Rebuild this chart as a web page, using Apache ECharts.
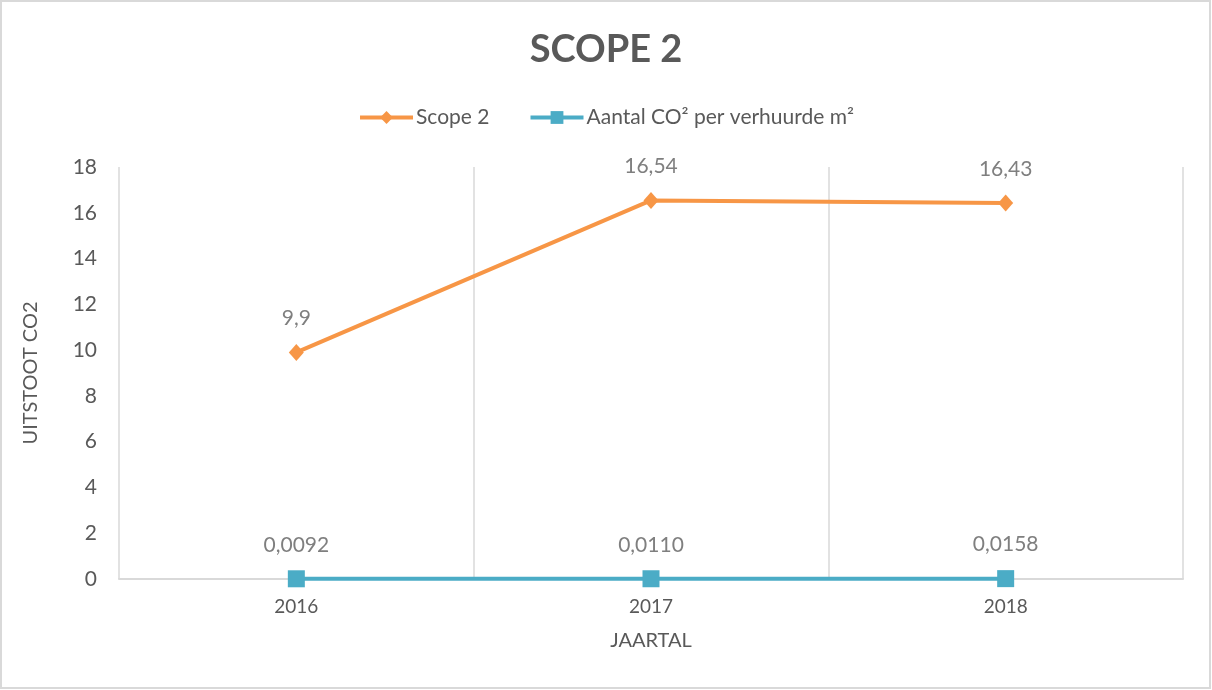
<!DOCTYPE html>
<html><head><meta charset="utf-8">
<script src="https://cdn.jsdelivr.net/npm/echarts@6/dist/echarts.min.js"></script>
<style>html,body{margin:0;padding:0;background:#fff}#c{width:1212px;height:690px}</style>
</head><body><div id="c"></div>
<script>
const categories = ['2016', '2017', '2018'];
const scope2 = [9.9, 16.54, 16.43];
const co2PerM2 = [0.0092, 0.0110, 0.0158];
const yTicks = { min: 0, max: 18, interval: 2 };
const titleText = 'SCOPE 2';
const seriesNames = ['Scope 2', 'Aantal CO² per verhuurde m²'];

const chart = echarts.init(document.getElementById('c'));
const FONT = 'Lato';
chart.setOption({
  animation: false,
  textStyle: { fontFamily: FONT },
  graphic: [{ type: 'rect', shape: { x: 1, y: 1, width: 1209, height: 687 }, style: { fill: 'none', stroke: '#d9d9d9', lineWidth: 2 }, silent: true }],
  title: { text: titleText, left: 'center', top: 26, textStyle: { fontFamily: FONT, fontSize: 38, fontWeight: 'bold', color: '#595959' } },
  legend: {
    top: 102, left: 'center', itemGap: 39, itemWidth: 53, itemHeight: 16,
    lineStyle: { width: 4 },
    textStyle: { fontFamily: FONT, fontSize: 21, color: '#595959', padding: [0, 0, 0, -2] },
    data: seriesNames
  },
  grid: { left: 119, right: 29, top: 167, bottom: 111 },
  xAxis: {
    type: 'category', data: categories, boundaryGap: true,
    name: 'JAARTAL', nameLocation: 'middle', nameGap: 52,
    nameTextStyle: { fontFamily: FONT, fontSize: 20, color: '#595959' },
    axisLine: { lineStyle: { color: '#d9d9d9', width: 2 } },
    axisTick: { show: false },
    axisLabel: { fontFamily: FONT, fontSize: 19, color: '#595959', margin: 18 },
    splitLine: { show: true, lineStyle: { color: '#d9d9d9', width: 1.5 } }
  },
  yAxis: {
    type: 'value', min: yTicks.min, max: yTicks.max, interval: yTicks.interval,
    name: 'UITSTOOT CO2', nameLocation: 'middle', nameGap: 78,
    nameTextStyle: { fontFamily: FONT, fontSize: 20, color: '#595959' },
    axisLine: { show: false }, axisTick: { show: false }, splitLine: { show: false },
    axisLabel: { fontFamily: FONT, fontSize: 21, color: '#595959', margin: 22 }
  },
  series: [
    {
      name: seriesNames[0], type: 'line', data: scope2,
      symbol: 'diamond', symbolSize: [15, 17],
      lineStyle: { color: '#F79646', width: 4 }, itemStyle: { color: '#F79646' },
      label: { show: true, position: 'top', distance: 15, fontFamily: FONT, fontSize: 21, color: '#7f7f7f',
        formatter: p => String(p.value).replace('.', ',') }
    },
    {
      name: seriesNames[1], type: 'line', data: co2PerM2,
      symbol: 'rect', symbolSize: 17,
      lineStyle: { color: '#4BACC6', width: 4 }, itemStyle: { color: '#4BACC6' },
      label: { show: true, position: 'top', distance: 15, fontFamily: FONT, fontSize: 21, color: '#7f7f7f',
        formatter: p => p.value.toFixed(4).replace('.', ',') }
    }
  ]
});
</script></body></html>
